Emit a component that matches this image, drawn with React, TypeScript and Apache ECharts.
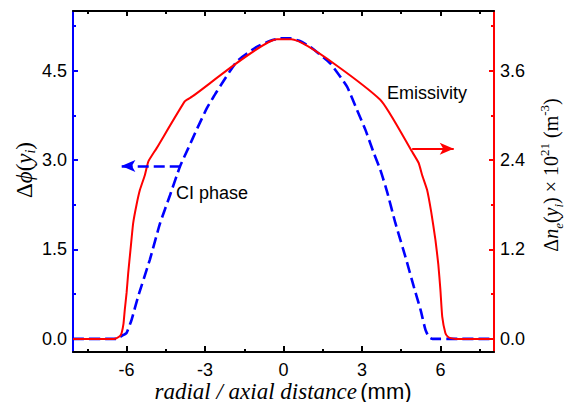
import React, { useEffect, useRef } from "react";
import * as echarts from "echarts";

// ---- data ----
const phaseX = [-8.05, -6.4, -6.26, -6.1, -6.0, -5.81, -5.56, -5.11, -4.72, -4.34, -3.96, -3.64, -3.32, -2.93, -2.55, -1.79, -1.02, -0.5, -0.13, 0.26, 0.6, 1.02, 1.79, 2.43, 2.81, 3.13, 3.45, 3.7, 3.96, 4.28, 4.66, 4.98, 5.24, 5.43, 5.56, 5.7, 8.05];
const phaseY = [0, 0, 0.03, 0.07, 0.1, 0.32, 0.71, 1.33, 1.94, 2.41, 2.89, 3.2, 3.51, 3.87, 4.15, 4.65, 4.9, 5.0, 5.04, 5.04, 5.0, 4.9, 4.62, 4.23, 3.84, 3.51, 3.12, 2.84, 2.47, 1.94, 1.38, 0.88, 0.49, 0.15, 0.03, 0, 0];

const emisX = [-8.05, -6.5, -6.38, -6.25, -6.19, -6.12, -6.07, -6.0, -5.94, -5.85, -5.75, -5.62, -5.49, -5.3, -5.17, -4.85, -3.77, -3.5, -0.25, 0.3, 3.7, 4.92, 5.17, 5.3, 5.49, 5.65, 5.81, 5.92, 6.0, 6.07, 6.19, 6.28, 6.39, 6.6, 8.05];
const emisY = [0, 0, 0.01, 0.04, 0.08, 0.2, 0.39, 0.62, 0.88, 1.2, 1.55, 1.8, 2.0, 2.2, 2.38, 2.56, 3.19, 3.25, 4.02, 4.02, 3.21, 2.51, 2.36, 2.2, 2.0, 1.7, 1.33, 1.0, 0.66, 0.3, 0.08, 0.03, 0.01, 0, 0];

const phaseArrow = [[-3.93, 2.9], [-6.2, 2.9]];
const emisArrow = [[4.92, 2.55], [6.51, 2.55]];

const xTicks = [-6, -3, 0, 3, 6];
const xMinor = [-7.5, -4.5, -1.5, 1.5, 4.5, 7.5];
const yLeftTicks = [0, 1.5, 3, 4.5];
const yLeftMinor = [0.75, 2.25, 3.75, 5.25];
const yRightTicks = [0, 1.2, 2.4, 3.6];
const yRightMinor = [0.6, 1.8, 3.0, 4.2];

const X_MIN = -8.05, X_MAX = 8.05;
const YL_MIN = -0.22, YL_MAX = 5.5;
const YR_MIN = -0.176, YR_MAX = 4.4;

const SANS = "Liberation Sans, Arial, sans-serif";
const SERIF = "Liberation Serif, DejaVu Serif, serif";
const BLUE = "#0000ff";
const RED = "#ff0000";

function xAxisDef(position: string, values: number[], len: number, labels: boolean, line: boolean) {
  return {
    type: "value", position, min: X_MIN, max: X_MAX,
    axisLine: { show: line, onZero: false, lineStyle: { color: "#000", width: 2 } },
    axisTick: { show: true, inside: true, length: len, customValues: values, lineStyle: { color: "#000", width: 2 } },
    axisLabel: { show: labels, customValues: values, fontFamily: SANS, fontSize: 18, color: "#000", margin: 9, formatter: (v: number) => String(v) },
    splitLine: { show: false },
  };
}

function yAxisDef(position: string, min: number, max: number, values: number[], len: number, labels: boolean, line: boolean, color: string) {
  return {
    type: "value", position, min, max,
    axisLine: { show: line, onZero: false, lineStyle: { color, width: 2 } },
    axisTick: { show: true, inside: true, length: len, customValues: values, lineStyle: { color, width: 2 } },
    axisLabel: { show: labels, customValues: values, fontFamily: SANS, fontSize: 18, color: "#000", margin: 6, formatter: (v: number) => v.toFixed(1) },
    splitLine: { show: false },
  };
}

export default function App() {
  const ref = useRef<HTMLDivElement>(null);
  useEffect(() => {
    if (!ref.current) return;
    const chart = echarts.init(ref.current, null, { renderer: "svg" });
    const phaseData = phaseX.map((x, i) => [x, phaseY[i]]);
    const emisData = emisX.map((x, i) => [x, emisY[i]]);
    chart.setOption({
      animation: false,
      backgroundColor: "#fff",
      grid: { left: 73, right: 74, top: 11, bottom: 50, containLabel: false },
      xAxis: [
        xAxisDef("bottom", xTicks, 6, true, true),
        xAxisDef("top", xTicks, 5, false, true),
        xAxisDef("bottom", xMinor, 3, false, false),
        xAxisDef("top", xMinor, 3, false, false),
      ],
      yAxis: [
        yAxisDef("left", YL_MIN, YL_MAX, yLeftTicks, 5, true, true, BLUE),
        yAxisDef("right", YR_MIN, YR_MAX, yRightTicks, 5, true, true, RED),
        yAxisDef("left", YL_MIN, YL_MAX, yLeftMinor, 3, false, false, BLUE),
        yAxisDef("right", YR_MIN, YR_MAX, yRightMinor, 3, false, false, RED),
      ],
      series: [
        {
          name: "CI phase", type: "line", xAxisIndex: 0, yAxisIndex: 0, data: phaseData,
          showSymbol: false, symbol: "none", smooth: 0.15,
          lineStyle: { color: BLUE, width: 2.6, type: [11, 5] },
          markLine: {
            silent: true, symbol: ["none", "arrow"], symbolSize: [9, 14],
            label: { show: false },
            lineStyle: { color: BLUE, width: 2.6, type: [11, 5] },
            data: [[{ coord: phaseArrow[0] }, { coord: phaseArrow[1] }]],
          },
        },
        {
          name: "Emissivity", type: "line", xAxisIndex: 0, yAxisIndex: 1, data: emisData,
          showSymbol: false, symbol: "none", smooth: 0.15,
          lineStyle: { color: RED, width: 2 },
          markLine: {
            silent: true, symbol: ["none", "arrow"], symbolSize: [9, 14],
            label: { show: false },
            lineStyle: { color: RED, width: 2, type: "solid" },
            data: [[{ coord: emisArrow[0] }, { coord: emisArrow[1] }]],
          },
        },
      ],
      graphic: [
        { type: "text", x: 176, y: 193, style: { text: "CI phase", fontFamily: SANS, fontSize: 18, fill: "#000", align: "left", verticalAlign: "middle" } },
        { type: "text", x: 387, y: 93, style: { text: "Emissivity", fontFamily: SANS, fontSize: 18, fill: "#000", align: "left", verticalAlign: "middle" } },
        {
          type: "text", x: 283, y: 391,
          style: {
            text: "{it|radial / axial distance} {n|(mm)}", align: "center", verticalAlign: "middle", fill: "#000",
            rich: {
              it: { fontFamily: SERIF, fontStyle: "italic", fontSize: 23, fill: "#000" },
              n: { fontFamily: SANS, fontSize: 22, fill: "#000" },
            },
          },
        },
        {
          type: "text", x: 24, y: 170, rotation: Math.PI / 2,
          style: {
            text: "{g|Δ}{it|ϕ}{g|(}{it|y}{sub|i}{g|)}", align: "center", verticalAlign: "middle", fill: "#000",
            rich: {
              g: { fontFamily: SERIF, fontSize: 23, lineHeight: 26, fill: "#000" },
              it: { fontFamily: SERIF, fontStyle: "italic", fontSize: 23, lineHeight: 26, fill: "#000" },
              sub: { fontFamily: SERIF, fontStyle: "italic", fontSize: 14, fill: "#000", verticalAlign: "bottom" },
            },
          },
        },
        {
          type: "text", x: 551, y: 175, rotation: Math.PI / 2,
          style: {
            text: "{g|Δ}{it|n}{sub|e}{g|(}{it|y}{sub|i}{g|) × 10}{sup|21}{g| (m}{sup|-3}{g|)}", align: "center", verticalAlign: "middle", fill: "#000",
            rich: {
              g: { fontFamily: SERIF, fontSize: 20, lineHeight: 27, fill: "#000" },
              it: { fontFamily: SERIF, fontStyle: "italic", fontSize: 20, lineHeight: 27, fill: "#000" },
              sub: { fontFamily: SERIF, fontStyle: "italic", fontSize: 13, fill: "#000", verticalAlign: "bottom" },
              sup: { fontFamily: SERIF, fontSize: 13, fill: "#000", verticalAlign: "top" },
            },
          },
        },
      ],
    });
    return () => chart.dispose();
  }, []);
  return <div ref={ref} style={{ position: "fixed", left: 0, top: 0, width: 568, height: 402 }} />;
}
